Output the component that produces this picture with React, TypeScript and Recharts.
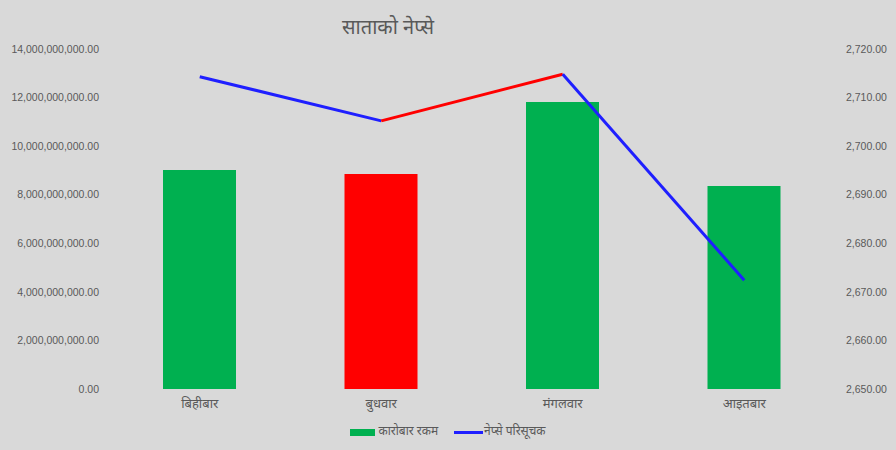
import { Bar, Cell, ComposedChart, Legend, Line, XAxis, YAxis } from "recharts";

const days = ["बिहीबार", "बुधवार", "मंगलवार", "आइतबार"];
const turnover = [9.02e9, 8.85e9, 11.82e9, 8.36e9];
const nepse = [2714.3, 2705.2, 2714.8, 2672.4];
const barColors = ["#00b050", "#ff0000", "#00b050", "#00b050"];
const leftTicks = [0, 2e9, 4e9, 6e9, 8e9, 10e9, 12e9, 14e9];
const rightTicks = [2650, 2660, 2670, 2680, 2690, 2700, 2710, 2720];

const UP = "#ff0000";
const DOWN = "#1f1fff";
const GREY = "#595959";
const FONT = "'Noto Sans Devanagari', 'Lohit Devanagari', 'Liberation Sans', sans-serif";

// one line per segment so each piece can take its own colour
const segCount = nepse.length - 1;
const data = days.map((day, i) => {
  const row: Record<string, string | number | null> = { day, turnover: turnover[i] };
  for (let k = 0; k < segCount; k++) {
    row["seg" + k] = i === k || i === k + 1 ? nepse[i] : null;
  }
  return row;
});
const segColors = Array.from({ length: segCount }, (_, k) =>
  nepse[k + 1] >= nepse[k] ? UP : DOWN
);

const fmt = (v: number) =>
  v.toLocaleString("en-US", { minimumFractionDigits: 2, maximumFractionDigits: 2 });

function LegendBox() {
  return (
    <div
      style={{
        display: "flex",
        justifyContent: "center",
        alignItems: "center",
        height: 26,
        fontFamily: FONT,
        fontSize: 12,
        color: GREY,
      }}
    >
      <span style={{ width: 25, height: 7, background: "#00b050", marginRight: 3 }} />
      <span style={{ marginRight: 16 }}>कारोबार रकम</span>
      <span style={{ width: 29, height: 3, background: DOWN, marginRight: 1 }} />
      <span>नेप्से परिसूचक</span>
    </div>
  );
}

export default function App() {
  return (
    <div
      style={{
        position: "absolute",
        left: 0,
        top: 0,
        width: 896,
        height: 450,
        background: "#d9d9d9",
        fontFamily: FONT,
      }}
    >
      <div
        style={{
          position: "absolute",
          left: 0,
          width: 776,
          top: 14,
          textAlign: "center",
          fontSize: 20,
          color: GREY,
          lineHeight: "30px",
        }}
      >
        साताको नेप्से
      </div>
      <ComposedChart
        width={896}
        height={450}
        data={data}
        margin={{ top: 49, right: 0, left: 0, bottom: 5 }}
        barCategoryGap={0}
      >
        <XAxis
          dataKey="day"
          axisLine={false}
          tickLine={false}
          height={30}
          tickMargin={4}
          tick={{ fill: GREY, fontSize: 13, fontFamily: FONT }}
        />
        <YAxis
          yAxisId="left"
          orientation="left"
          width={109}
          domain={[0, 14e9]}
          ticks={leftTicks}
          axisLine={false}
          tickLine={false}
          tickMargin={4}
          tickFormatter={fmt}
          tick={{ fill: GREY, fontSize: 10.5, fontFamily: "'Liberation Sans', sans-serif" }}
        />
        <YAxis
          yAxisId="right"
          orientation="right"
          width={61}
          domain={[2650, 2720]}
          ticks={rightTicks}
          axisLine={false}
          tickLine={false}
          tickMargin={5}
          tickFormatter={fmt}
          tick={{ fill: GREY, fontSize: 10.5, fontFamily: "'Liberation Sans', sans-serif" }}
        />
        <Legend verticalAlign="bottom" content={() => <LegendBox />} />
        <Bar yAxisId="left" dataKey="turnover" barSize={73} isAnimationActive={false}>
          {days.map((d, i) => (
            <Cell key={d} fill={barColors[i]} />
          ))}
        </Bar>
        {segColors.map((c, k) => (
          <Line
            key={k}
            yAxisId="right"
            dataKey={"seg" + k}
            stroke={c}
            strokeWidth={3}
            dot={false}
            activeDot={false}
            type="linear"
            isAnimationActive={false}
            legendType="none"
          />
        ))}
      </ComposedChart>
    </div>
  );
}
